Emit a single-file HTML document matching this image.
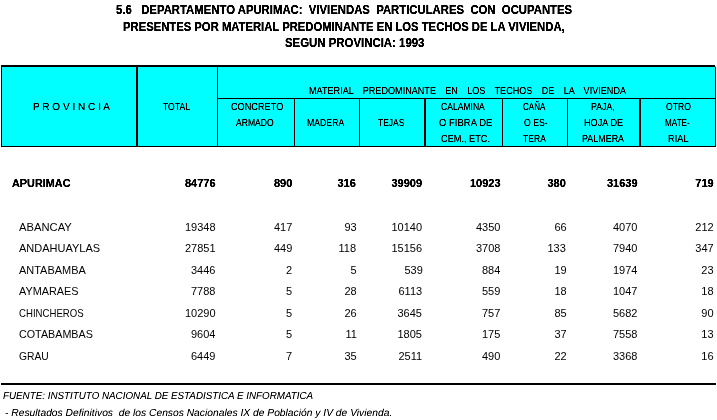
<!DOCTYPE html>
<html lang="es"><head><meta charset="utf-8"><title>5.6 Departamento Apurimac</title>
<style>
html,body{margin:0;padding:0;background:#fff;}
body{width:717px;height:420px;position:relative;overflow:hidden;font-family:"Liberation Sans", sans-serif;color:#000;}
.x{position:absolute;white-space:pre;transform-origin:0 0;margin:0;padding:0;}
.t{font-size:12px;line-height:16px;font-weight:bold;}
.h{font-size:10.2px;line-height:13px;text-rendering:geometricPrecision;}
.d,.db{font-size:11px;line-height:14px;}
.db{font-weight:bold;}
.f{font-size:10.2px;line-height:13px;font-style:italic;text-rendering:geometricPrecision;}
.bx{position:absolute;background:#000;}
.g{position:absolute;left:0;top:0;width:717px;height:420px;}
#gh{filter:url(#fh);}
#gb{filter:url(#fb);}
#gf{filter:url(#ff);}
#hd{position:absolute;left:1px;top:66px;width:715px;height:81px;background:#0ff;}
</style></head>
<body>
<div id="hd"></div>
<div class="bx" style="left:1px;top:65px;width:714px;height:2px"></div>
<div class="bx" style="left:1px;top:146px;width:715px;height:1px"></div>
<div class="bx" style="left:1px;top:65px;width:1px;height:82px"></div>
<div class="bx" style="left:715px;top:67px;width:1px;height:80px"></div>
<div class="bx" style="left:136px;top:65px;width:2px;height:82px"></div>
<div class="bx" style="left:217px;top:65px;width:1px;height:82px"></div>
<div class="bx" style="left:217px;top:98px;width:499px;height:1px"></div>
<div class="bx" style="left:294px;top:98px;width:1px;height:49px"></div>
<div class="bx" style="left:359px;top:98px;width:1px;height:49px"></div>
<div class="bx" style="left:424px;top:98px;width:2px;height:49px"></div>
<div class="bx" style="left:502px;top:98px;width:1px;height:49px"></div>
<div class="bx" style="left:567px;top:98px;width:1px;height:49px"></div>
<div class="bx" style="left:639px;top:98px;width:2px;height:49px"></div>
<div class="bx" style="left:1px;top:383px;width:715px;height:2px"></div>
<svg width="0" height="0" style="position:absolute"><defs><filter id="fh" x="0" y="0" width="100%" height="100%" color-interpolation-filters="sRGB"><feComponentTransfer><feFuncA type="linear" slope="1.5" intercept="-0.05"/></feComponentTransfer></filter><filter id="fb" x="0" y="0" width="100%" height="100%" color-interpolation-filters="sRGB"><feComponentTransfer><feFuncA type="linear" slope="1.8" intercept="-0.05"/></feComponentTransfer></filter><filter id="ff" x="0" y="0" width="100%" height="100%" color-interpolation-filters="sRGB"><feComponentTransfer><feFuncA type="linear" slope="1.2" intercept="-0.03"/></feComponentTransfer></filter></defs></svg>
<div class="g" id="gb">
<div class="x t" style="left:116.00px;top:2px;transform:scaleX(0.9441);">5.6   DEPARTAMENTO APURIMAC:  VIVIENDAS  PARTICULARES  CON  OCUPANTES</div>
<div class="x t" style="left:123.20px;top:19px;transform:scaleX(0.9387);">PRESENTES POR MATERIAL PREDOMINANTE EN LOS TECHOS DE LA VIVIENDA,</div>
<div class="x t" style="left:285.00px;top:35px;transform:scaleX(0.9504);">SEGUN PROVINCIA: 1993</div>
<div class="x db" style="left:12.00px;top:176px;transform:scaleX(0.9876);">APURIMAC</div>
<div class="x db" style="left:185.00px;top:176px;">84776</div>
<div class="x db" style="left:274.00px;top:176px;">890</div>
<div class="x db" style="left:337.50px;top:176px;">316</div>
<div class="x db" style="left:391.50px;top:176px;">39909</div>
<div class="x db" style="left:470.00px;top:176px;">10923</div>
<div class="x db" style="left:547.50px;top:176px;">380</div>
<div class="x db" style="left:607.00px;top:176px;">31639</div>
<div class="x db" style="left:695.30px;top:176px;">719</div>
</div>
<div class="g" id="gh">
<div class="x h" style="left:33.30px;top:101px;transform:scaleX(0.9863);">P R O V I N C I A</div>
<div class="x h" style="left:163.00px;top:101px;transform:scaleX(0.8438);">TOTAL</div>
<div class="x h" style="left:309.00px;top:85px;transform:scaleX(0.8920);word-spacing:0.65px;">MATERIAL   PREDOMINANTE   EN   LOS   TECHOS   DE   LA   VIVIENDA</div>
<div class="x h" style="left:231.10px;top:101px;transform:scaleX(0.8997);">CONCRETO</div>
<div class="x h" style="left:235.80px;top:117px;transform:scaleX(0.8415);">ARMADO</div>
<div class="x h" style="left:307.40px;top:117px;transform:scaleX(0.8541);">MADERA</div>
<div class="x h" style="left:378.00px;top:117px;transform:scaleX(0.8321);">TEJAS</div>
<div class="x h" style="left:440.60px;top:101px;transform:scaleX(0.8415);">CALAMINA</div>
<div class="x h" style="left:439.10px;top:117px;transform:scaleX(0.9339);">O FIBRA DE</div>
<div class="x h" style="left:440.60px;top:133px;transform:scaleX(0.9017);">CEM., ETC.</div>
<div class="x h" style="left:522.90px;top:101px;transform:scaleX(0.7876);">CAÑA</div>
<div class="x h" style="left:524.10px;top:117px;transform:scaleX(0.8519);">O ES-</div>
<div class="x h" style="left:523.40px;top:133px;transform:scaleX(0.8426);">TERA</div>
<div class="x h" style="left:591.40px;top:101px;transform:scaleX(0.8617);">PAJA,</div>
<div class="x h" style="left:584.00px;top:117px;transform:scaleX(0.8987);">HOJA DE</div>
<div class="x h" style="left:581.80px;top:133px;transform:scaleX(0.8775);">PALMERA</div>
<div class="x h" style="left:666.10px;top:101px;transform:scaleX(0.8456);">OTRO</div>
<div class="x h" style="left:665.10px;top:117px;transform:scaleX(0.8011);">MATE-</div>
<div class="x h" style="left:668.20px;top:133px;transform:scaleX(0.9080);">RIAL</div>
</div>
<div class="g" id="gd">
<div class="x d" style="left:19.00px;top:220px;transform:scaleX(1.0196);">ABANCAY</div>
<div class="x d" style="left:185.00px;top:220px;">19348</div>
<div class="x d" style="left:274.00px;top:220px;">417</div>
<div class="x d" style="left:344.50px;top:220px;">93</div>
<div class="x d" style="left:391.50px;top:220px;">10140</div>
<div class="x d" style="left:476.00px;top:220px;">4350</div>
<div class="x d" style="left:554.50px;top:220px;">66</div>
<div class="x d" style="left:613.00px;top:220px;">4070</div>
<div class="x d" style="left:695.30px;top:220px;">212</div>
<div class="x d" style="left:19.00px;top:241px;">ANDAHUAYLAS</div>
<div class="x d" style="left:185.00px;top:241px;">27851</div>
<div class="x d" style="left:274.00px;top:241px;">449</div>
<div class="x d" style="left:338.50px;top:241px;">118</div>
<div class="x d" style="left:391.50px;top:241px;">15156</div>
<div class="x d" style="left:476.00px;top:241px;">3708</div>
<div class="x d" style="left:547.50px;top:241px;">133</div>
<div class="x d" style="left:613.00px;top:241px;">7940</div>
<div class="x d" style="left:695.30px;top:241px;">347</div>
<div class="x d" style="left:19.00px;top:263px;transform:scaleX(0.9959);">ANTABAMBA</div>
<div class="x d" style="left:191.00px;top:263px;">3446</div>
<div class="x d" style="left:286.00px;top:263px;">2</div>
<div class="x d" style="left:350.50px;top:263px;">5</div>
<div class="x d" style="left:404.50px;top:263px;">539</div>
<div class="x d" style="left:482.00px;top:263px;">884</div>
<div class="x d" style="left:554.50px;top:263px;">19</div>
<div class="x d" style="left:613.00px;top:263px;">1974</div>
<div class="x d" style="left:701.30px;top:263px;">23</div>
<div class="x d" style="left:19.00px;top:284px;transform:scaleX(0.9877);">AYMARAES</div>
<div class="x d" style="left:191.00px;top:284px;">7788</div>
<div class="x d" style="left:286.00px;top:284px;">5</div>
<div class="x d" style="left:344.50px;top:284px;">28</div>
<div class="x d" style="left:398.50px;top:284px;">6113</div>
<div class="x d" style="left:482.00px;top:284px;">559</div>
<div class="x d" style="left:554.50px;top:284px;">18</div>
<div class="x d" style="left:613.00px;top:284px;">1047</div>
<div class="x d" style="left:701.30px;top:284px;">18</div>
<div class="x d" style="left:19.00px;top:306px;transform:scaleX(0.8738);">CHINCHEROS</div>
<div class="x d" style="left:185.00px;top:306px;">10290</div>
<div class="x d" style="left:286.00px;top:306px;">5</div>
<div class="x d" style="left:344.50px;top:306px;">26</div>
<div class="x d" style="left:397.50px;top:306px;">3645</div>
<div class="x d" style="left:482.00px;top:306px;">757</div>
<div class="x d" style="left:554.50px;top:306px;">85</div>
<div class="x d" style="left:613.00px;top:306px;">5682</div>
<div class="x d" style="left:701.30px;top:306px;">90</div>
<div class="x d" style="left:19.00px;top:327px;transform:scaleX(0.9768);">COTABAMBAS</div>
<div class="x d" style="left:191.00px;top:327px;">9604</div>
<div class="x d" style="left:286.00px;top:327px;">5</div>
<div class="x d" style="left:345.50px;top:327px;">11</div>
<div class="x d" style="left:397.50px;top:327px;">1805</div>
<div class="x d" style="left:482.00px;top:327px;">175</div>
<div class="x d" style="left:554.50px;top:327px;">37</div>
<div class="x d" style="left:613.00px;top:327px;">7558</div>
<div class="x d" style="left:701.30px;top:327px;">13</div>
<div class="x d" style="left:19.00px;top:349px;transform:scaleX(0.9365);">GRAU</div>
<div class="x d" style="left:191.00px;top:349px;">6449</div>
<div class="x d" style="left:286.00px;top:349px;">7</div>
<div class="x d" style="left:344.50px;top:349px;">35</div>
<div class="x d" style="left:398.50px;top:349px;">2511</div>
<div class="x d" style="left:482.00px;top:349px;">490</div>
<div class="x d" style="left:554.50px;top:349px;">22</div>
<div class="x d" style="left:613.00px;top:349px;">3368</div>
<div class="x d" style="left:701.30px;top:349px;">16</div>
</div>
<div class="g" id="gf">
<div class="x f" style="left:3.00px;top:390px;transform:scaleX(0.9627);">FUENTE: INSTITUTO NACIONAL DE ESTADISTICA E INFORMATICA</div>
<div class="x f" style="left:5.20px;top:407px;transform:scaleX(1.0091);">- Resultados Definitivos  de los Censos Nacionales IX de Población y IV de Vivienda.</div>
</div>
</body></html>
